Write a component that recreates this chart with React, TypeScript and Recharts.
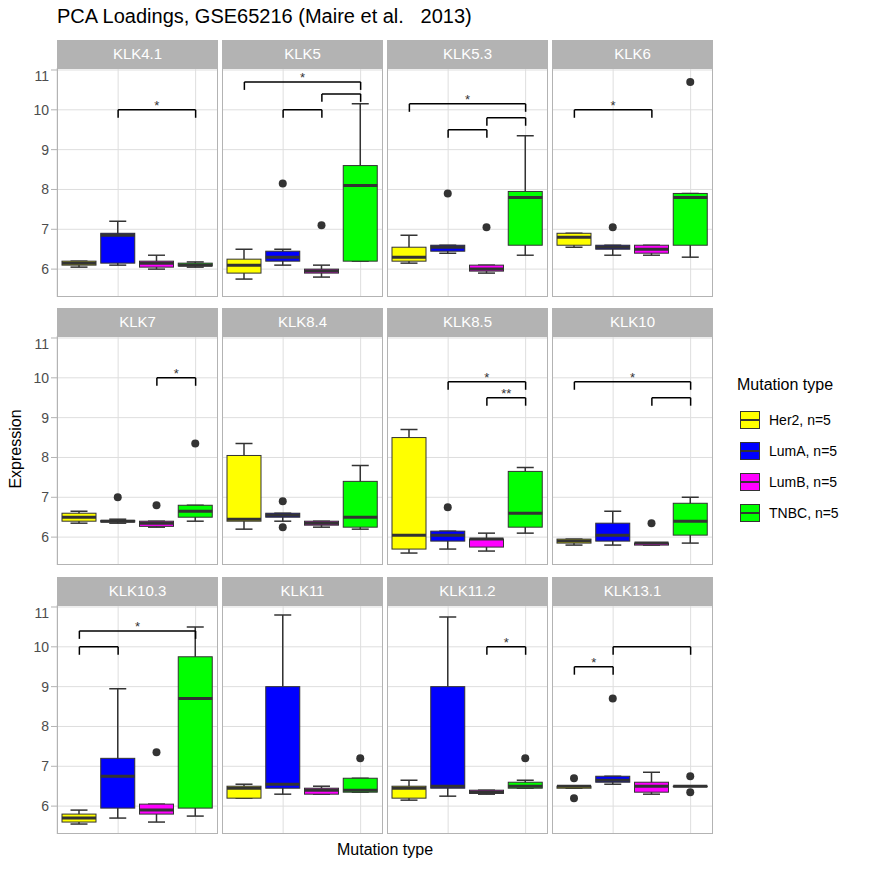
import { ComposedChart, Bar, XAxis, YAxis, CartesianGrid, ReferenceLine } from 'recharts'

const groups = ['Her2', 'LumA', 'LumB', 'TNBC']
const groupColors = ['#FFFF00', '#0000FF', '#FF00FF', '#00FF00']
const panelNames = ['KLK4.1', 'KLK5', 'KLK5.3', 'KLK6', 'KLK7', 'KLK8.4', 'KLK8.5', 'KLK10', 'KLK10.3', 'KLK11', 'KLK11.2', 'KLK13.1']
const yTicks = [6, 7, 8, 9, 10, 11]
const gridValues = [5.5, 6, 6.5, 7, 7.5, 8, 8.5, 9, 9.5, 10, 10.5, 11]

// [min, q1, median, q3, max, ...outliers] per group, per panel
const boxStats: number[][][] = [
  [[6.05, 6.1, 6.15, 6.2, 6.2], [6.1, 6.15, 6.85, 6.9, 7.2], [6.0, 6.05, 6.15, 6.2, 6.35], [6.05, 6.08, 6.1, 6.15, 6.18]],
  [[5.75, 5.9, 6.1, 6.25, 6.5], [6.1, 6.2, 6.3, 6.45, 6.5, 8.15], [5.8, 5.9, 5.95, 6.0, 6.1, 7.1], [6.2, 6.2, 8.1, 8.6, 10.15]],
  [[6.15, 6.2, 6.3, 6.55, 6.85], [6.4, 6.45, 6.55, 6.6, 6.6, 7.9], [5.9, 5.95, 6.0, 6.1, 6.1, 7.05], [6.35, 6.6, 7.8, 7.95, 9.35]],
  [[6.55, 6.6, 6.8, 6.9, 6.9], [6.35, 6.5, 6.55, 6.6, 6.6, 7.05], [6.35, 6.4, 6.5, 6.6, 6.6], [6.3, 6.6, 7.8, 7.9, 7.9, 10.7]],
  [[6.35, 6.4, 6.5, 6.6, 6.65], [6.35, 6.38, 6.4, 6.42, 6.45, 7.0], [6.25, 6.27, 6.35, 6.4, 6.4, 6.8], [6.4, 6.5, 6.65, 6.8, 6.8, 8.35]],
  [[6.2, 6.4, 6.45, 8.05, 8.35], [6.4, 6.5, 6.55, 6.6, 6.6, 6.9, 6.25], [6.25, 6.3, 6.35, 6.4, 6.4], [6.2, 6.25, 6.5, 7.4, 7.8]],
  [[5.6, 5.7, 6.05, 8.5, 8.7], [5.7, 5.9, 6.05, 6.15, 6.15, 6.75], [5.65, 5.75, 5.95, 5.95, 6.1], [6.1, 6.25, 6.6, 7.65, 7.75]],
  [[5.8, 5.85, 5.9, 5.95, 5.95], [5.8, 5.9, 6.05, 6.35, 6.65], [5.8, 5.8, 5.85, 5.85, 5.85, 6.35], [5.85, 6.05, 6.4, 6.85, 7.0]],
  [[5.55, 5.6, 5.7, 5.8, 5.9], [5.7, 5.95, 6.75, 7.2, 8.95], [5.6, 5.8, 5.9, 6.05, 6.05, 7.35], [5.75, 5.95, 8.7, 9.75, 10.5]],
  [[6.2, 6.2, 6.45, 6.5, 6.55], [6.3, 6.45, 6.55, 9.0, 10.8], [6.3, 6.3, 6.4, 6.45, 6.5], [6.35, 6.35, 6.4, 6.7, 6.7, 7.2]],
  [[6.15, 6.2, 6.45, 6.5, 6.65], [6.25, 6.45, 6.5, 9.0, 10.75], [6.3, 6.32, 6.35, 6.4, 6.4], [6.45, 6.45, 6.5, 6.6, 6.65, 7.2]],
  [[6.45, 6.45, 6.5, 6.5, 6.5, 6.7, 6.2], [6.55, 6.6, 6.65, 6.75, 6.75, 8.7], [6.3, 6.35, 6.5, 6.6, 6.85], [6.5, 6.5, 6.5, 6.5, 6.5, 6.75, 6.35]],
]

// [from, to, y, label]
const brackets: [string, string, number, string][][] = [
  [['LumA', 'TNBC', 10, '*']],
  [['Her2', 'TNBC', 10.7, '*'], ['LumA', 'LumB', 10.0, ''], ['LumB', 'TNBC', 10.4, '']],
  [['Her2', 'TNBC', 10.15, '*'], ['LumA', 'LumB', 9.5, ''], ['LumB', 'TNBC', 9.8, '']],
  [['Her2', 'LumB', 10, '*']],
  [['LumB', 'TNBC', 10, '*']],
  [],
  [['LumA', 'TNBC', 9.9, '*'], ['LumB', 'TNBC', 9.5, '**']],
  [['Her2', 'TNBC', 9.9, '*'], ['LumB', 'TNBC', 9.5, '']],
  [['Her2', 'TNBC', 10.4, '*'], ['Her2', 'LumA', 10.0, '']],
  [],
  [['LumB', 'TNBC', 10, '*']],
  [['Her2', 'LumA', 9.5, '*'], ['LumA', 'TNBC', 10.0, '']],
]

const colLeft = [57, 222, 387, 552]
const rowTop = [68, 336, 605]
const plotW = 161
const plotH = 229
const yAxisW = 49
const font = '"Liberation Sans", Arial, sans-serif'

function BoxShape(props: any) {
  const { x, y, width, height, payload } = props
  const [lo, hi] = payload.range
  const k = height / (hi - lo)
  const py = (v: number) => y + (hi - v) * k
  const [mn, q1, md, q3, mx, ...outs] = payload.stats
  const cx = x + width / 2
  const cap = width / 4
  return (
    <g>
      <line x1={cx} x2={cx} y1={py(mx)} y2={py(mn)} stroke="#333" strokeWidth={1.5} />
      <line x1={cx - cap} x2={cx + cap} y1={py(mx)} y2={py(mx)} stroke="#333" strokeWidth={1.5} />
      <line x1={cx - cap} x2={cx + cap} y1={py(mn)} y2={py(mn)} stroke="#333" strokeWidth={1.5} />
      <rect x={x} y={py(q3)} width={width} height={Math.max(py(q1) - py(q3), 0.5)} fill={payload.color} stroke="#333" strokeWidth={1} />
      <line x1={x} x2={x + width} y1={py(md)} y2={py(md)} stroke="#333" strokeWidth={3} />
      {outs.map((o: number, i: number) => (
        <circle key={i} cx={cx} cy={py(o)} r={4} fill="#333" />
      ))}
    </g>
  )
}

function Panel({ idx }: { idx: number }) {
  const col = idx % 4
  const row = Math.floor(idx / 4)
  const first = col === 0
  const data = groups.map((g, i) => {
    const s = boxStats[idx][i]
    return { group: g, color: groupColors[i], stats: s, range: [Math.min(...s), Math.max(...s)] }
  })
  const left = first ? colLeft[col] - yAxisW : colLeft[col]
  return (
    <>
      <div style={{ position: 'absolute', left: colLeft[col], top: rowTop[row] - 28, width: plotW, height: 28, background: '#B3B3B3', color: '#fff', fontSize: 15, textAlign: 'center', lineHeight: '28px' }}>
        {panelNames[idx]}
      </div>
      <div style={{ position: 'absolute', left, top: rowTop[row] }}>
        <ComposedChart width={plotW + (first ? yAxisW : 0)} height={plotH} data={data} margin={{ top: 0, right: 0, bottom: 0, left: 0 }}>
          <CartesianGrid stroke="#DEDEDE" horizontalValues={gridValues} />
          <XAxis dataKey="group" hide padding={{ left: 3, right: 3 }} />
          <YAxis domain={[5.3, 11.05]} ticks={yTicks} hide={!first} width={yAxisW} allowDataOverflow
            tick={{ fill: '#4D4D4D', fontSize: 14 }} tickLine={{ stroke: '#B3B3B3' }} axisLine={false} />
          <Bar dataKey="range" barSize={34} shape={<BoxShape />} isAnimationActive={false} />
          {brackets[idx].map(([a, b, yv, lab], i) => (
            <g key={i}>
              <ReferenceLine segment={[{ x: a, y: yv }, { x: b, y: yv }]} stroke="#000" strokeWidth={1.5}
                label={lab ? { value: lab, position: 'top', offset: 0, fill: '#333', fontSize: 13 } : undefined} />
              <ReferenceLine segment={[{ x: a, y: yv }, { x: a, y: yv - 0.2 }]} stroke="#000" strokeWidth={1.5} />
              <ReferenceLine segment={[{ x: b, y: yv }, { x: b, y: yv - 0.2 }]} stroke="#000" strokeWidth={1.5} />
            </g>
          ))}
        </ComposedChart>
      </div>
      <div style={{ position: 'absolute', left: colLeft[col], top: rowTop[row], width: plotW - 2, height: plotH - 2, border: '1px solid #B3B3B3', pointerEvents: 'none' }} />
    </>
  )
}

export default function App() {
  return (
    <div style={{ position: 'absolute', left: 0, top: 0, width: 870, height: 871, background: '#fff', fontFamily: font }}>
      <div style={{ position: 'absolute', left: 57, top: 5, fontSize: 20, color: '#000', whiteSpace: 'pre' }}>
        PCA Loadings, GSE65216 (Maire et al.   2013)
      </div>
      {panelNames.map((_, i) => <Panel key={i} idx={i} />)}
      <div style={{ position: 'absolute', left: 0, top: 440, width: 34, textAlign: 'center', fontSize: 16 }}>
        <div style={{ transform: 'rotate(-90deg)', whiteSpace: 'nowrap', position: 'absolute', left: -24, top: 0 }}>Expression</div>
      </div>
      <div style={{ position: 'absolute', left: 57, width: 656, top: 841, textAlign: 'center', fontSize: 16 }}>Mutation type</div>
      <div style={{ position: 'absolute', left: 737, top: 376, fontSize: 16 }}>Mutation type</div>
      {groups.map((g, i) => (
        <div key={g} style={{ position: 'absolute', left: 737, top: 407 + i * 31, height: 26, display: 'flex', alignItems: 'center' }}>
          <div style={{ width: 26, height: 26, position: 'relative' }}>
            <div style={{ position: 'absolute', left: 3, top: 4, width: 18, height: 16, background: groupColors[i], border: '1px solid #333' }} />
            <div style={{ position: 'absolute', left: 3, top: 12, width: 20, height: 2, background: '#333' }} />
          </div>
          <span style={{ fontSize: 14, marginLeft: 6 }}>{g}, n=5</span>
        </div>
      ))}
    </div>
  )
}
